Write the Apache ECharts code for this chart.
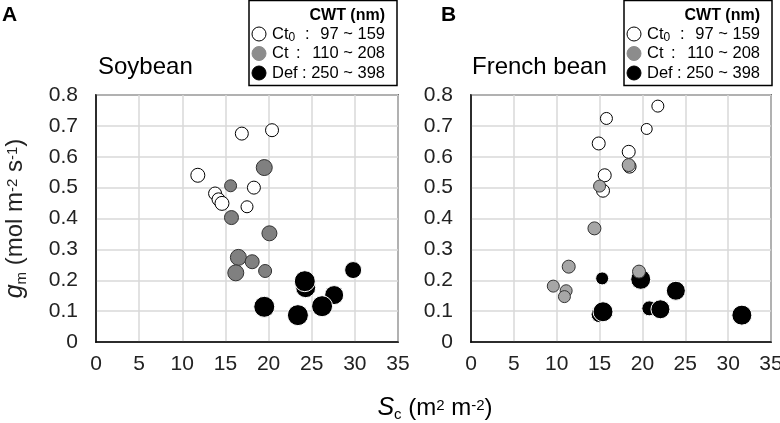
<!DOCTYPE html>
<html>
<head>
<meta charset="utf-8">
<script src="https://cdn.jsdelivr.net/npm/echarts@6/dist/echarts.min.js"></script>
<style>
  html, body { margin: 0; padding: 0; background: #fff; }
  #main { width: 780px; height: 423px; }
</style>
</head>
<body>
<div id="main"></div>
<script>
// ---- data: [Sc, gm] ----
const soyCt0 = [[11.8, 0.54], [13.8, 0.481], [14.2, 0.462], [14.6, 0.449], [16.9, 0.675], [17.5, 0.438], [18.3, 0.50], [20.4, 0.686]];
const soyCt = [[15.6, 0.506], [19.5, 0.565], [15.7, 0.403], [20.1, 0.352], [16.5, 0.274], [18.1, 0.26], [16.2, 0.224], [19.6, 0.23]];
const soyDef = [[24.3, 0.176], [24.2, 0.197], [27.6, 0.152], [26.2, 0.116], [19.5, 0.114], [23.4, 0.087], [29.8, 0.233]];

const frCt0 = [[15.8, 0.724], [14.9, 0.643], [18.4, 0.616], [18.5, 0.568], [15.6, 0.54], [15.4, 0.49], [21.8, 0.764], [20.5, 0.69]];
const frCt = [[14.4, 0.368], [11.4, 0.244], [9.6, 0.181], [11.1, 0.166], [10.9, 0.147], [15.0, 0.505], [18.4, 0.573], [19.6, 0.228]];
const frDef = [[15.3, 0.206], [19.8, 0.203], [23.9, 0.166], [20.8, 0.109], [22.1, 0.106], [15.0, 0.09], [15.4, 0.098], [31.6, 0.087]];

// legend entries (label, CWT range)
const groups = ['Ct0', 'Ct', 'Def'];
const cwtRanges = ['97 ~ 159', '110 ~ 208', '250 ~ 398'];
const xTicks = [0, 35, 5];   // min, max, step
const yTicks = [0, 0.8, 0.1];

// marker diameters (style only)
const soyCt0Size = [14, 13, 13, 14, 13, 12, 13, 13];
const soyCtSize = [12, 16, 14, 15, 16, 14, 16, 13];
const soyDefSize = [20, 21, 19, 21, 21, 21, 17];
const frCt0Size = [12, 13, 13, 13, 13, 13, 12, 11];
const frCtSize = [13, 13, 12, 12, 12, 12, 13, 13];
const frDefSize = [13, 20, 19, 15, 19, 17, 20, 20];

const FONT = '"Liberation Sans", Arial, sans-serif';
const styles = {
  Ct0: { color: '#fff', borderColor: '#000', borderWidth: 1, opacity: 1 },
  Ct: { color: '#808080', borderColor: '#333', borderWidth: 1, opacity: 1 },
  CtB: { color: '#a6a6a6', borderColor: '#333', borderWidth: 1, opacity: 1 },
  Def: { color: '#000', borderColor: '#fff', borderWidth: 1, opacity: 1 }
};

function xAxis(gi) {
  return {
    gridIndex: gi, type: 'value', min: xTicks[0], max: xTicks[1], interval: xTicks[2],
    axisLine: { show: true, lineStyle: { color: '#000', width: 1.5 } },
    axisTick: { show: false },
    axisLabel: { color: '#222', fontSize: 21, fontFamily: FONT, margin: 12 },
    splitLine: { show: true, lineStyle: { color: '#d9d9d9', width: 1.5 } }
  };
}
function yAxis(gi) {
  return {
    gridIndex: gi, type: 'value', min: yTicks[0], max: yTicks[1], interval: yTicks[2],
    axisLine: { show: true, lineStyle: { color: '#000', width: 1.5 } },
    axisTick: { show: false },
    axisLabel: { color: '#222', fontSize: 21, fontFamily: FONT, margin: 18 },
    splitLine: { show: true, lineStyle: { color: '#d9d9d9', width: 1.5 } }
  };
}
function scatter(data, sizes, gi, style, z) {
  return {
    type: 'scatter', xAxisIndex: gi, yAxisIndex: gi, data: data,
    symbolSize: function (v, p) { return sizes[p.dataIndex]; },
    itemStyle: style, z: z, silent: true, animation: false
  };
}

const rich = {
  i: { fontStyle: 'italic', fontSize: 25, fontFamily: FONT, color: '#222', lineHeight: 34 },
  n: { fontSize: 24, fontFamily: FONT, color: '#222', lineHeight: 34 },
  sub: { fontSize: 15, fontFamily: FONT, color: '#222', verticalAlign: 'bottom', lineHeight: 15, padding: [0, 0, 3, 0] },
  sup: { fontSize: 15, fontFamily: FONT, color: '#222', verticalAlign: 'top', lineHeight: 15, padding: [7, 0, 0, 0] }
};
const legRich = {
  n: { fontSize: 16.5, fontFamily: FONT, color: '#000', lineHeight: 20 },
  sub: { fontSize: 12, fontFamily: FONT, color: '#000', verticalAlign: 'bottom', lineHeight: 11 }
};

function legend(x0) {
  const els = [{
    type: 'rect', shape: { x: x0, y: 0.5, width: 148, height: 85 },
    style: { fill: '#fff', stroke: '#000', lineWidth: 1.5 }, z: 10
  }, {
    type: 'text', z: 11,
    style: { text: 'CWT (nm)', x: x0 + 136, y: 16, align: 'right', verticalAlign: 'middle', font: 'bold 16px ' + FONT, fill: '#000' }
  }];
  const fills = ['#fff', '#8c8c8c', '#000'];
  const labels = ['{n|Ct}{sub|0}', '{n|Ct}', '{n|Def}'];
  const colonX = [56, 47, 53];
  groups.forEach(function (g, k) {
    const y = 34 + k * 19.5;
    els.push({ type: 'circle', z: 11, shape: { cx: x0 + 10, cy: y, r: 7 }, style: { fill: fills[k], stroke: k === 0 ? '#000' : fills[k], lineWidth: 1 } });
    els.push({ type: 'text', z: 11, style: { text: labels[k], rich: legRich, x: x0 + 23, y: y, verticalAlign: 'middle', align: 'left' } });
    els.push({ type: 'text', z: 11, style: { text: ':', x: x0 + colonX[k], y: y, verticalAlign: 'middle', align: 'left', font: '16.5px ' + FONT, fill: '#000' } });
    els.push({ type: 'text', z: 11, style: { text: cwtRanges[k], x: x0 + 136, y: y, verticalAlign: 'middle', align: 'right', font: '16.5px ' + FONT, fill: '#000' } });
  });
  return els;
}

const chart = echarts.init(document.getElementById('main'), null, { renderer: 'canvas' });
chart.setOption({
  animation: false,
  backgroundColor: '#fff',
  grid: [
    { left: 96, top: 95, width: 302, height: 247, show: true, borderColor: '#000', borderWidth: 1.5, backgroundColor: 'transparent', containLabel: false, outerBoundsMode: 'none' },
    { left: 471, top: 95, width: 300, height: 247, show: true, borderColor: '#000', borderWidth: 1.5, backgroundColor: 'transparent', containLabel: false, outerBoundsMode: 'none' }
  ],
  xAxis: [xAxis(0), xAxis(1)],
  yAxis: [
    Object.assign(yAxis(0), {
      name: '{i|g}{sub|m}{n| (mol m}{sup|-2}{n| s}{sup|-1}{n|)}',
      nameLocation: 'middle', nameGap: 64, nameRotate: 90,
      nameTextStyle: { rich: rich }
    }),
    yAxis(1)
  ],
  series: [
    scatter(soyCt0, soyCt0Size, 0, styles.Ct0, 2),
    scatter(soyDef, soyDefSize, 0, styles.Def, 3),
    scatter(soyCt, soyCtSize, 0, styles.Ct, 4),
    scatter(frCt0, frCt0Size, 1, styles.Ct0, 2),
    scatter(frDef, frDefSize, 1, styles.Def, 3),
    scatter(frCt, frCtSize, 1, styles.CtB, 4)
  ],
  graphic: [
    { type: 'text', style: { text: 'A', x: 2, y: 15, verticalAlign: 'middle', font: 'bold 21px ' + FONT, fill: '#000' } },
    { type: 'text', style: { text: 'B', x: 441, y: 15, verticalAlign: 'middle', font: 'bold 21px ' + FONT, fill: '#000' } },
    { type: 'text', style: { text: 'Soybean', x: 98, y: 67, verticalAlign: 'middle', font: '24px ' + FONT, fill: '#000' } },
    { type: 'text', style: { text: 'French bean', x: 472, y: 67, verticalAlign: 'middle', font: '24px ' + FONT, fill: '#000' } },
    { type: 'text', style: { text: '{i|S}{sub|c}{n| (m}{sup|2}{n| m}{sup|-2}{n|)}', rich: rich, x: 435, y: 408, align: 'center', verticalAlign: 'middle' } }
  ].concat(legend(249), legend(624))
});
</script>
</body>
</html>
